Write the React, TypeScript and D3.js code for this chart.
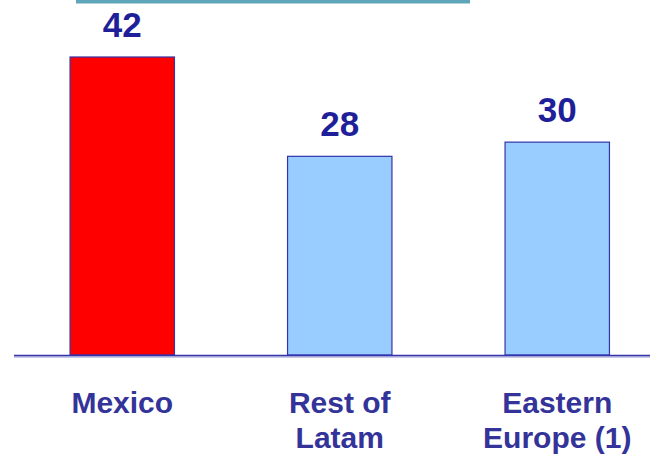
import React from "react";
import * as d3 from "d3";

const categories: string[][] = [["Mexico"], ["Rest of", "Latam"], ["Eastern", "Europe (1)"]];
const values: number[] = [42, 28, 30];
const colors: string[] = ["#ff0000", "#99ccff", "#99ccff"];

const W = 650;
const H = 455;

export default function App() {
  const x = d3
    .scaleBand<number>()
    .domain(values.map((_, i) => i))
    .range([13.5, 666])
    .paddingInner(0.52)
    .paddingOuter(0.26);
  const y = d3.scaleLinear().domain([0, 42]).range([355, 57]);
  const font = "Arial, 'Liberation Sans', Helvetica, sans-serif";
  return (
    <svg
      width={W}
      height={H}
      style={{ position: "absolute", left: 0, top: 0, display: "block", background: "#fff" }}
      fontFamily={font}
    >
      <line x1={76} x2={470} y1={1.5} y2={1.5} stroke="#5ea4ba" strokeWidth={4} />
      {values.map((v, i) => (
        <g key={i}>
          <rect
            x={x(i)!}
            y={y(v)}
            width={x.bandwidth()}
            height={y(0) - y(v)}
            fill={colors[i]}
            stroke="#3333aa"
            strokeWidth={1.2}
          />
          <text
            x={x(i)! + x.bandwidth() / 2}
            y={y(v) - 20}
            textAnchor="middle"
            fontWeight="bold"
            fontSize={35}
            fill="#1f1f99"
          >
            {v}
          </text>
          <text
            x={x(i)! + x.bandwidth() / 2}
            y={413}
            textAnchor="middle"
            fontWeight="bold"
            fontSize={30}
            fill="#333399"
          >
            {categories[i].map((line, j) => (
              <tspan key={j} x={x(i)! + x.bandwidth() / 2} dy={j === 0 ? 0 : 35}>
                {line}
              </tspan>
            ))}
          </text>
        </g>
      ))}
      <line x1={14} x2={650} y1={357} y2={357} stroke="#c8c8e8" strokeWidth={2} />
      <line x1={14} x2={650} y1={355.5} y2={355.5} stroke="#3333aa" strokeWidth={1.5} />
    </svg>
  );
}
